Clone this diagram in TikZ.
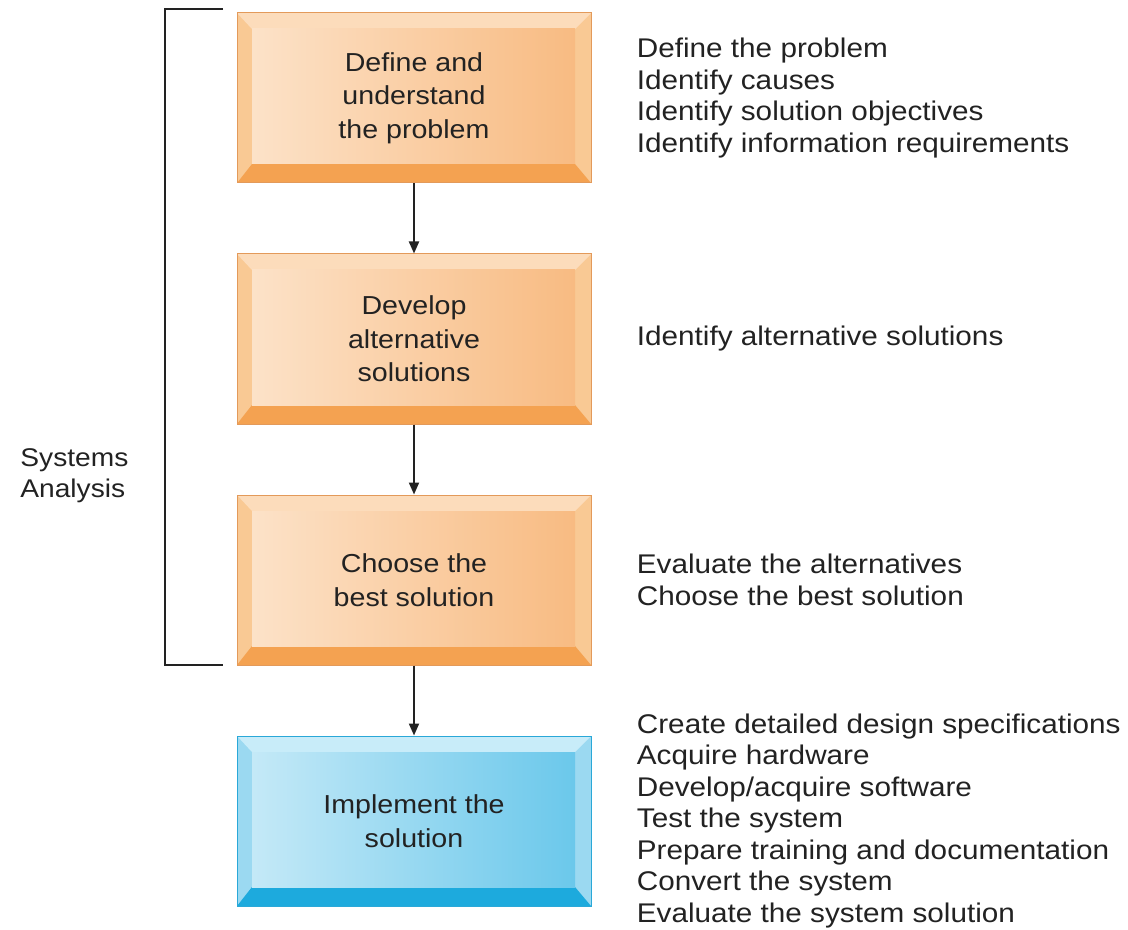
\documentclass[tikz,border=0pt]{standalone}
\usepackage{fontspec}
\setmainfont{Liberation Sans}[FakeStretch=1.1]
\usepackage{tikz}
\usetikzlibrary{arrows.meta}
\usetikzlibrary{calc}
\usetikzlibrary{positioning}
\definecolor{inkgray}{HTML}{222222}
\definecolor{orangeedge}{HTML}{E39A5A}
\definecolor{orangeside}{HTML}{F9C994}
\definecolor{orangetop}{HTML}{FCDCBB}
\definecolor{orangebot}{HTML}{F4A251}
\definecolor{orangelight}{HTML}{FCE2C8}
\definecolor{orangedark}{HTML}{F8BB82}
\definecolor{blueedge}{HTML}{2AA8D8}
\definecolor{blueside}{HTML}{9BD9F1}
\definecolor{bluetop}{HTML}{C8ECF9}
\definecolor{bluebot}{HTML}{1DAADD}
\definecolor{bluelight}{HTML}{C4E9F7}
\definecolor{bluedark}{HTML}{6BC8EB}
\newcommand\bevel[5]{%
  \coordinate (o1) at (path picture bounding box.south west);
  \coordinate (o2) at (path picture bounding box.north east);
  \coordinate (i1) at ($(o1)+(7.5pt,9.5pt)$);
  \coordinate (i2) at ($(o2)+(-8pt,-8pt)$);
  \fill[#1] (o1) rectangle (o2);
  \fill[#2] (o1 |- o2) -- (o2) -- (i2) -- (i1 |- i2) -- cycle;
  \fill[#3] (o1) -- (o1 -| o2) -- (i2 |- i1) -- (i1) -- cycle;
  \shade[left color=#4,right color=#5] (i1) rectangle (i2);
}
\tikzstyle{phase}=[rectangle,minimum width=177pt,minimum height=85pt,inner sep=0pt,align=center,text=inkgray,font=\fontsize{13}{16.75}\selectfont,line width=.5pt]
\tikzstyle{orangephase}=[phase,draw=orangeedge,path picture={\bevel{orangeside}{orangetop}{orangebot}{orangelight}{orangedark}}]
\tikzstyle{bluephase}=[phase,draw=blueedge,path picture={\bevel{blueside}{bluetop}{bluebot}{bluelight}{bluedark}}]
\tikzstyle{steps}=[anchor=west,align=left,inner sep=0pt,text=inkgray,font=\fontsize{13.5}{15.75}\selectfont]
\tikzstyle{flow}=[line width=1pt,draw=inkgray,-{Triangle[length=6pt,width=5pt]}]
\tikzstyle{brace}=[line width=1.3pt,draw=inkgray]

\begin{document}
\begin{tikzpicture}[x=0.5pt,y=-0.5pt]
  \useasboundingbox (0,0) rectangle (1128,930);
  % the four phases
  \node[orangephase] (def) at (414,98) {Define and\\understand\\the problem};
  \node[orangephase,below=35pt of def] (alt) {Develop\\alternative\\solutions};
  \node[orangephase,below=35pt of alt] (best) {Choose the\\best solution};
  \node[bluephase,below=35pt of best] (impl) {Implement the\\solution};
  \draw[flow] (def) -- (alt);
  \draw[flow] (alt) -- (best);
  \draw[flow] (best) -- (impl);
  % what each phase involves
  \node[steps,right=22.5pt of def] (defsteps) {Define the problem\\Identify causes\\Identify solution objectives\\Identify information requirements};
  \node[steps,right=22.5pt of alt] (altsteps) {Identify alternative solutions};
  \node[steps,right=22.5pt of best] (beststeps) {Evaluate the alternatives\\Choose the best solution};
  \node[steps,right=22.5pt of impl] (implsteps) {Create detailed design specifications\\Acquire hardware\\Develop/acquire software\\Test the system\\Prepare training and documentation\\Convert the system\\Evaluate the system solution};
  % bracket
  \coordinate (brtop) at (223,9);
  \coordinate (brbot) at (223,665);
  \draw[brace] (brtop) -- (165,9) -- (165,665) -- (brbot);
  \node[steps,font=\fontsize{12.8}{15.5}\selectfont] (sysan) at (20,476) {Systems\\Analysis};
\end{tikzpicture}
\end{document}
